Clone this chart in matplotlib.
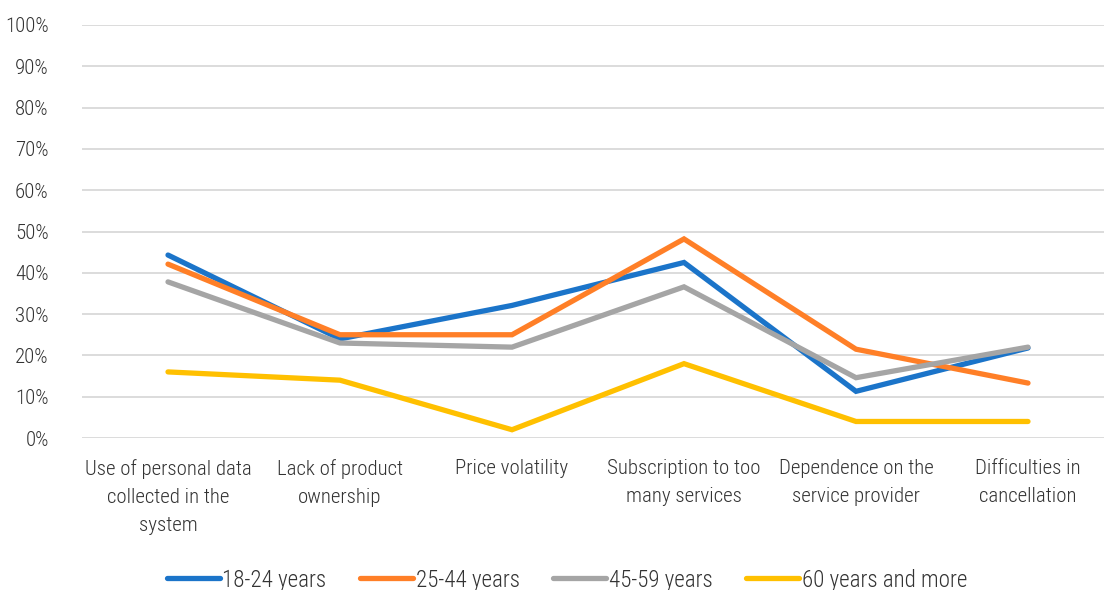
import matplotlib
matplotlib.use("Agg")
import matplotlib.pyplot as plt
from matplotlib import font_manager
from matplotlib.ticker import PercentFormatter

# Data
categories = [
    "Use of personal data\ncollected in the\nsystem",
    "Lack of product\nownership",
    "Price volatility",
    "Subscription to too\nmany services",
    "Dependence on the\nservice provider",
    "Difficulties in\ncancellation",
]
series_names = ["18-24 years", "25-44 years", "45-59 years", "60 years and more"]
age_18_24 = [44.3, 24.0, 32.1, 42.5, 11.3, 21.8]
age_25_44 = [42.1, 25.0, 25.0, 48.2, 21.5, 13.3]
age_45_59 = [37.8, 23.0, 22.0, 36.6, 14.6, 22.0]
age_60_plus = [16.0, 14.0, 2.0, 18.0, 4.0, 4.0]
y_ticks = [0, 10, 20, 30, 40, 50, 60, 70, 80, 90, 100]

colors = ["#1B74C9", "#FF7F27", "#A5A5A5", "#FFC000"]

available = {f.name for f in font_manager.fontManager.ttflist}
family = "DejaVu Sans"
for cand in ["Roboto Condensed", "Liberation Sans Narrow", "Roboto"]:
    if cand in available:
        family = cand
        break
plt.rcParams["font.family"] = [family, "DejaVu Sans"]
plt.rcParams["font.weight"] = "light"

text_color = "#333333"
fs = 15

fig = plt.figure(figsize=(11.04, 5.90), dpi=100)
ax = fig.add_axes([82 / 1104, 1 - 438 / 590, 1032 / 1104, 413 / 590])

x = list(range(len(categories)))
for vals, name, c in zip([age_18_24, age_25_44, age_45_59, age_60_plus], series_names, colors):
    ax.plot(x, vals, color=c, lw=3.8, label=name, solid_capstyle="round",
            solid_joinstyle="miter")

ax.set_xlim(-0.5, len(categories) - 0.5)
ax.set_ylim(0, 100)
ax.set_yticks(y_ticks)
ax.yaxis.set_major_formatter(PercentFormatter(decimals=0))
ax.set_xticks(x)
ax.set_xticklabels(categories, fontsize=fs, color=text_color)
for lbl in ax.get_xticklabels():
    lbl.set_linespacing(1.6)
ax.tick_params(axis="x", length=0, pad=15)
ax.tick_params(axis="y", length=0, pad=24, labelsize=fs, labelcolor=text_color)
ax.grid(axis="y", color="#D9D9D9", lw=1.3)
ax.set_axisbelow(True)
for s in ax.spines.values():
    s.set_visible(False)

leg = fig.legend(loc="center", bbox_to_anchor=(567 / 1104, 1 - 580 / 590), ncol=4,
                 frameon=False, fontsize=16.6, handlelength=2.3, handletextpad=0.12,
                 columnspacing=1.45, labelcolor=text_color)

fig.savefig("out.png", dpi=100)
